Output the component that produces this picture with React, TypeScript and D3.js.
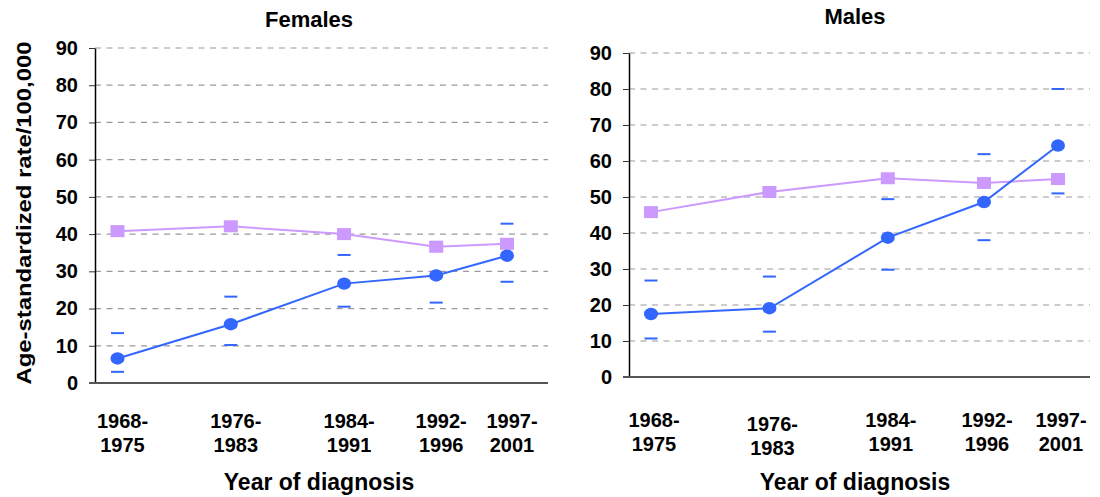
import React, { useEffect, useRef } from "react";
import * as d3 from "d3";

// period labels and their mid years (x positions follow the mid year)
const periods = [["1968-", "1975"], ["1976-", "1983"], ["1984-", "1991"], ["1992-", "1996"], ["1997-", "2001"]];
const midYears = [1971.5, 1979.5, 1987.5, 1994, 1999];
const yTicks = [0, 10, 20, 30, 40, 50, 60, 70, 80, 90];

const femalesSquares = [40.8, 42.1, 40.0, 36.6, 37.4];
const femalesCircles = [6.6, 15.8, 26.7, 28.9, 34.2];
const femalesLower = [3.0, 10.2, 20.5, 21.6, 27.2];
const femalesUpper = [13.4, 23.2, 34.4, 37.9, 42.8];

const malesSquares = [45.8, 51.4, 55.2, 53.9, 55.0];
const malesCircles = [17.5, 19.1, 38.7, 48.6, 64.3];
const malesLower = [10.7, 12.6, 29.8, 38.0, 51.0];
const malesUpper = [26.8, 27.9, 49.4, 61.9, 80.0];

const W = 1100;
const H = 497;
const FONT = "Arial, 'Liberation Sans', sans-serif";
const PINK = "#cc99ff";
const BLUE = "#3366ff";

const panels = [
  {
    title: "Females", titleX: 309, titleY: 27, xTitleX: 319,
    axisX: 95, right: 548, top: 48, bottom: 383,
    x0: 117.5, x1: 507, labelY: 428, labelDx: 5,
    squares: femalesSquares, circles: femalesCircles, lower: femalesLower, upper: femalesUpper,
  },
  {
    title: "Males", titleX: 855, titleY: 24, xTitleX: 855,
    axisX: 629, right: 1090, top: 53, bottom: 377,
    x0: 651, x1: 1058, labelY: 427, labelDx: 3,
    squares: malesSquares, circles: malesCircles, lower: malesLower, upper: malesUpper,
  },
];

const App = () => {
  const svgRef = useRef(null);

  useEffect(() => {
    const svg = d3.select(svgRef.current);
    svg.selectAll("*").remove();

    panels.forEach((p) => {
      const g = svg.append("g");
      const x = d3.scaleLinear().domain([midYears[0], midYears[4]]).range([p.x0, p.x1]);
      const y = d3.scaleLinear().domain([0, 90]).range([p.bottom, p.top]);

      // gridlines
      g.selectAll(".grid")
        .data(yTicks.filter((t) => t > 0))
        .join("line")
        .attr("x1", p.axisX)
        .attr("x2", p.right)
        .attr("y1", (d) => y(d))
        .attr("y2", (d) => y(d))
        .attr("stroke", "#9a9a9a")
        .attr("stroke-width", 1.2)
        .attr("stroke-dasharray", "6,5.5");

      // y axis
      const axis = g.append("g")
        .attr("transform", `translate(${p.axisX},0)`)
        .call(d3.axisLeft(y).tickValues(yTicks).tickSize(6).tickSizeOuter(0).tickPadding(11));
      axis.select(".domain").attr("stroke", "#000").attr("stroke-width", 1.5);
      axis.selectAll(".tick line").attr("stroke", "#333");
      axis.selectAll("text")
        .attr("font-family", FONT)
        .attr("font-size", 20)
        .attr("font-weight", "bold")
        .attr("fill", "#000");

      // zero line
      g.append("line")
        .attr("x1", p.axisX - 6)
        .attr("x2", p.right)
        .attr("y1", y(0))
        .attr("y2", y(0))
        .attr("stroke", "#555")
        .attr("stroke-width", 2);

      // confidence marks
      const ci = [...p.lower, ...p.upper].map((v, i) => ({ v, i: i % 5 }));
      g.selectAll(".ci")
        .data(ci)
        .join("line")
        .attr("x1", (d) => x(midYears[d.i]) - 6.5)
        .attr("x2", (d) => x(midYears[d.i]) + 6.5)
        .attr("y1", (d) => y(d.v))
        .attr("y2", (d) => y(d.v))
        .attr("stroke", BLUE)
        .attr("stroke-width", 2);

      const line = d3.line<number>()
        .x((d, i) => x(midYears[i]))
        .y((d) => y(d));

      // squares series
      g.append("path")
        .datum(p.squares)
        .attr("d", line)
        .attr("fill", "none")
        .attr("stroke", PINK)
        .attr("stroke-width", 2);
      g.selectAll(".sq")
        .data(p.squares)
        .join("rect")
        .attr("x", (d, i) => x(midYears[i]) - 7)
        .attr("y", (d) => y(d) - 6)
        .attr("width", 14)
        .attr("height", 12)
        .attr("fill", PINK);

      // circles series
      g.append("path")
        .datum(p.circles)
        .attr("d", line)
        .attr("fill", "none")
        .attr("stroke", BLUE)
        .attr("stroke-width", 2);
      g.selectAll(".dot")
        .data(p.circles)
        .join("ellipse")
        .attr("cx", (d, i) => x(midYears[i]))
        .attr("cy", (d) => y(d))
        .attr("rx", 7)
        .attr("ry", 6.2)
        .attr("fill", BLUE);

      // period labels
      const lab = g.selectAll(".lab")
        .data(periods)
        .join("text")
        .attr("font-family", FONT)
        .attr("font-size", 20)
        .attr("font-weight", "bold")
        .attr("text-anchor", "middle")
        .attr("fill", "#000");
      lab.each(function (d, i) {
        const t = d3.select(this);
        const cx = x(midYears[i]) + p.labelDx;
        const dy = p.title === "Males" && i === 1 ? 4 : 0;
        t.append("tspan").attr("x", cx).attr("y", p.labelY + dy).text(d[0]);
        t.append("tspan").attr("x", cx).attr("y", p.labelY + 24 + dy).text(d[1]);
      });

      // titles
      g.append("text")
        .attr("x", p.titleX)
        .attr("y", p.titleY)
        .attr("text-anchor", "middle")
        .attr("font-family", FONT)
        .attr("font-size", 22)
        .attr("font-weight", "bold")
        .text(p.title);

      g.append("text")
        .attr("x", p.xTitleX)
        .attr("y", 490)
        .attr("text-anchor", "middle")
        .attr("font-family", FONT)
        .attr("font-size", 23)
        .attr("font-weight", "bold")
        .text("Year of diagnosis");
    });

    svg.append("text")
      .attr("transform", "translate(31,213) rotate(-90)")
      .attr("text-anchor", "middle")
      .attr("font-family", FONT)
      .attr("font-size", 21)
      .attr("font-weight", "bold")
      .attr("textLength", 343)
      .attr("lengthAdjust", "spacingAndGlyphs")
      .text("Age-standardized rate/100,000");
  }, []);

  return (
    <svg
      ref={svgRef}
      width={W}
      height={H}
      style={{ position: "absolute", left: 0, top: 0, background: "#fff" }}
    ></svg>
  );
};

export default App;
